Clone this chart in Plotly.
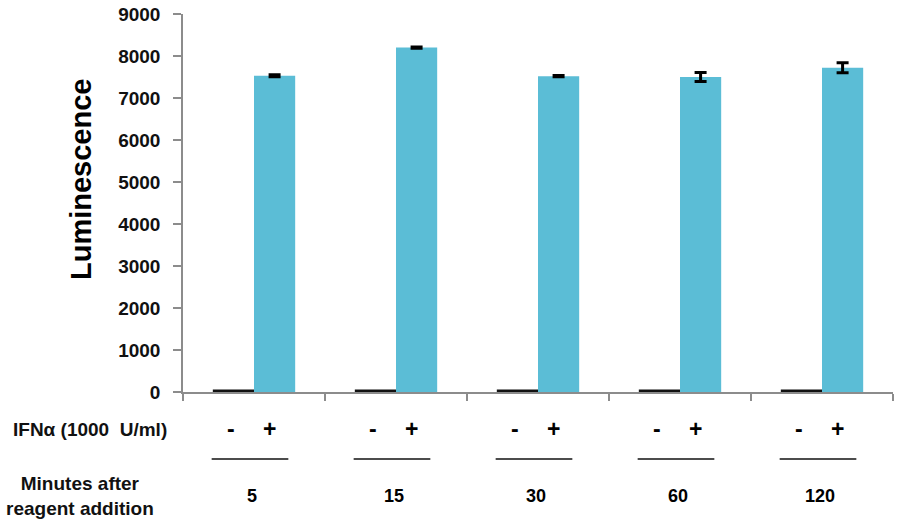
import plotly.graph_objects as go

minutes = ["5", "15", "30", "60", "120"]
minus_vals = [60, 60, 60, 60, 60]
plus_vals = [7530, 8200, 7520, 7500, 7720]
plus_err = [25, 15, 15, 110, 120]

FONT = "Liberation Sans"
BAR_BLUE = "#5bbdd6"
AX_GRAY = "#8c8c8c"

L, R, T, B = 183, 893, 14, 392
W, H = 900, 525

fig = go.Figure()
fig.add_trace(go.Bar(x=minutes, y=minus_vals, name="-", marker=dict(color="#111111", line=dict(width=0))))
fig.add_trace(go.Bar(x=minutes, y=plus_vals, name="+", marker=dict(color=BAR_BLUE, line=dict(width=0)),
                     error_y=dict(type="data", array=plus_err, color="black", thickness=3, width=6)))

fig.update_layout(
    barmode="group", bargap=0.42, bargroupgap=0,
    width=W, height=H,
    margin=dict(l=L, r=W - R, t=T, b=H - B, autoexpand=False),
    plot_bgcolor="white", paper_bgcolor="white",
    showlegend=False,
    font=dict(family=FONT, color="black"),
)
fig.update_yaxes(range=[0, 9000], dtick=1000, showgrid=False, zeroline=False,
                 showline=True, linecolor=AX_GRAY, linewidth=1.5,
                 ticks="outside", ticklen=8, tickcolor=AX_GRAY, tickwidth=1.5,
                 ticklabeloverflow="allow", ticklabelstandoff=9,
                 tickfont=dict(family=FONT, size=19, color="#111111", weight="bold"))
fig.update_xaxes(type="category", showgrid=False, zeroline=False, showline=True, linecolor=AX_GRAY, linewidth=1.5,
                 ticks="outside", tickson="boundaries", ticklen=7, tickcolor=AX_GRAY, tickwidth=1.5,
                 showticklabels=False, range=[-0.5, 4.5])


def py(ypix):
    return (B - ypix) / (B - T)


def px(xpix):
    return (xpix - L) / (R - L)


GROUP_PX = (R - L) / len(minutes)

ann = []
for i, m in enumerate(minutes):
    ann.append(dict(x=i, y=py(429), xref="x", yref="paper", text="<b>-</b>", showarrow=False,
                    xshift=-23, xanchor="center", yanchor="middle", font=dict(family=FONT, size=23, color="black")))
    ann.append(dict(x=i, y=py(429), xref="x", yref="paper", text="<b>+</b>", showarrow=False,
                    xshift=15, xanchor="center", yanchor="middle", font=dict(family=FONT, size=23, color="black")))
    ann.append(dict(x=i, y=py(496), xref="x", yref="paper", text="<b>%s</b>" % m, showarrow=False,
                    xshift=-2, xanchor="center", yanchor="middle", font=dict(family=FONT, size=18, color="black")))
    sh = 4 / GROUP_PX
    fig.add_shape(type="line", xref="x", yref="paper", x0=i - 0.27 - sh, x1=i + 0.27 - sh, y0=py(459), y1=py(459),
                  line=dict(color="#111111", width=1.5))

ann.append(dict(x=px(90), y=py(429), xref="paper", yref="paper", text="<b>IFNα (1000  U/ml)</b>",
                showarrow=False, xanchor="center", yanchor="middle", font=dict(family=FONT, size=19, color="#111111")))
ann.append(dict(x=px(80), y=py(496), xref="paper", yref="paper", text="<b>Minutes after<br>reagent addition</b>",
                showarrow=False, xanchor="center", yanchor="middle", font=dict(family=FONT, size=19, color="#111111")))
ann.append(dict(x=px(81), y=py(180), xref="paper", yref="paper", text="<b>Luminescence</b>", textangle=-90,
                showarrow=False, xanchor="center", yanchor="middle", font=dict(family=FONT, size=29, color="black")))
fig.update_layout(annotations=ann)

fig.write_html("out.html", config={"displayModeBar": False},
               post_script="document.body.style.margin='0';")
